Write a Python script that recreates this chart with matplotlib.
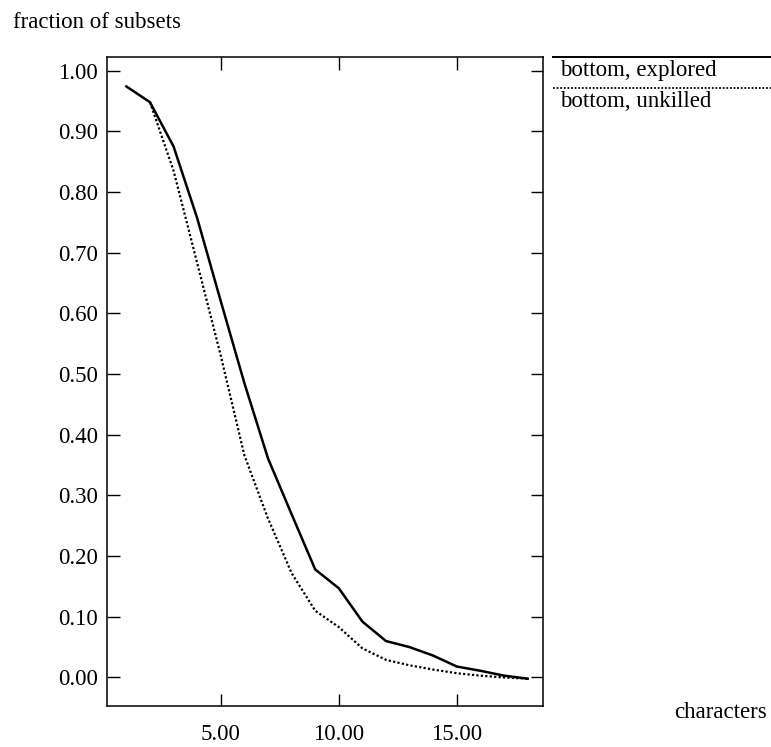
import matplotlib
matplotlib.use("Agg")
import matplotlib.pyplot as plt
from matplotlib.lines import Line2D

# values
chars = [1, 2, 3, 4, 5, 6, 7, 8, 9, 10, 11, 12, 13, 14, 15, 16, 17, 18]
explored = [0.974, 0.948, 0.875, 0.757, 0.620, 0.485, 0.361, 0.269, 0.178,
            0.147, 0.092, 0.060, 0.050, 0.036, 0.018, 0.011, 0.003, -0.002]
chars_unk = [2, 3, 4, 5, 6, 7, 8, 9, 10, 11, 12, 13, 14, 15, 16, 17, 18]
unkilled = [0.948, 0.835, 0.683, 0.530, 0.366, 0.262, 0.172, 0.110, 0.083,
            0.048, 0.029, 0.020, 0.013, 0.007, 0.003, 0.000, -0.002]
labels = ["bottom, explored", "bottom, unkilled"]
xticks = [5, 10, 15]
yticks = [0.0, 0.1, 0.2, 0.3, 0.4, 0.5, 0.6, 0.7, 0.8, 0.9, 1.0]

plt.rcParams['font.family'] = ['Liberation Serif', 'DejaVu Serif']
plt.rcParams['font.size'] = 16.5

fig = plt.figure(figsize=(7.71, 7.47), dpi=100)
ax = fig.add_axes([0.1394, 0.0549, 0.5649, 0.8692])

ax.plot(chars, explored, color='black', lw=1.8)
ax.plot(chars_unk, unkilled, color='black', lw=1.6, linestyle=(0, (1, 1)))

ax.set_xlim(0.2, 18.65)
ax.set_ylim(-0.047, 1.023)
ax.set_xticks(xticks)
ax.set_xticklabels(['%.2f' % v for v in xticks])
ax.set_yticks(yticks)
ax.set_yticklabels(['%.2f' % v for v in yticks])
ax.tick_params(direction='in', length=9, width=1, top=True, right=True,
               labeltop=False, labelright=False)
ax.tick_params(axis='x', pad=13)
ax.tick_params(axis='y', pad=7)
for s in ax.spines.values():
    s.set_linewidth(1.1)

fig.text(13 / 771, 1 - 28 / 747, "fraction of subsets", ha='left', va='baseline')
fig.text(767 / 771, 1 - 718 / 747, "characters", ha='right', va='baseline')

# legend to the right of the plot
styles = ['-', (0, (1, 1))]
line_y = [57, 88]
text_y = [76, 107]
for lab, st, ly, ty in zip(labels, styles, line_y, text_y):
    fig.add_artist(Line2D([553 / 771, 1.0], [1 - ly / 747, 1 - ly / 747],
                          color='black', lw=1.4 if st == '-' else 1.3, linestyle=st))
    fig.text(560 / 771, 1 - ty / 747, lab, ha='left', va='baseline')

fig.savefig("out.png", dpi=100)
